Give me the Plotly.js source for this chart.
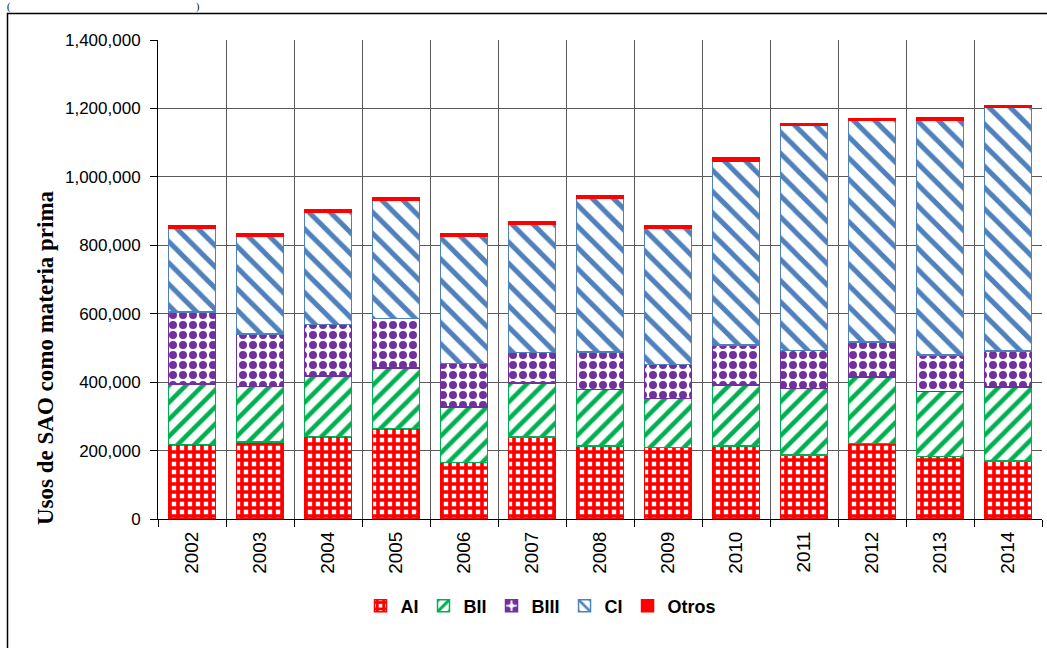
<!DOCTYPE html>
<html>
<head>
<meta charset="utf-8">
<script src="https://cdn.plot.ly/plotly-3.0.1.min.js"></script>
<style>
  html, body { margin: 0; padding: 0; background: #ffffff; }
  #chart { width: 1047px; height: 648px; }
</style>
</head>
<body>
<div id="chart"></div>
<script>
// ---- data ----
const years = ['2002','2003','2004','2005','2006','2007','2008','2009','2010','2011','2012','2013','2014'];
const AI    = [218000, 225000, 241000, 264000, 165000, 240000, 213000, 209000, 213000, 187000, 221000, 182000, 169000];
const BII   = [176000, 162000, 177000, 178000, 163000, 158000, 166000, 143000, 179000, 195000, 194000, 191000, 217000];
const BIII  = [211000, 154000, 151000, 144000, 127000,  88000, 109000, 100000, 117000, 111000, 102000, 106000, 105000];
const CI    = [246000, 285000, 327000, 346000, 370000, 376000, 449000, 397000, 538000, 659000, 648000, 687000, 711000];
const Otros = [  5000,   7000,   8000,   7000,   8000,   7000,   8000,   7000,   9000,   4000,   5000,   7000,   6000];
const yTickVals = [0, 200000, 400000, 600000, 800000, 1000000, 1200000, 1400000];

// ---- styles ----
const RED = '#ff0000', GREEN = '#00b050', PURPLE = '#7030a0', BLUE = '#4f81bd';

function barTrace(name, vals, color, pattern) {
  const marker = { color: color, line: { color: color, width: 1.5 } };
  if (pattern) {
    marker.pattern = Object.assign({ fgcolor: color, bgcolor: '#ffffff', fillmode: 'replace' }, pattern);
  }
  return { type: 'bar', name: name, x: years, y: vals, marker: marker, hoverinfo: 'x+y+name' };
}

const data = [
  barTrace('AI', AI, RED, { shape: '+', size: 8, solidity: 0.7 }),
  barTrace('BII', BII, GREEN, { shape: '/', size: 12, solidity: 0.38 }),
  barTrace('BIII', BIII, PURPLE, { shape: '.', size: 10, solidity: 0.5 }),
  barTrace('CI', CI, BLUE, { shape: '\\', size: 15, solidity: 0.33 }),
  barTrace('Otros', Otros, RED, null)
];

const L = 158, R = 1042, T = 40, B = 519, W = 1047, H = 648;
const px = v => (v - L) / (R - L);
const py = v => (B - v) / (B - T);

const yTickFont = { family: 'Liberation Sans, Arial, sans-serif', size: 17, color: '#000000' };
const xTickFont = { family: 'Liberation Sans, Arial, sans-serif', size: 19, color: '#000000' };

const layout = {
  width: W, height: H,
  margin: { l: L, r: W - R, t: T, b: H - B, pad: 0 },
  paper_bgcolor: '#ffffff',
  plot_bgcolor: '#ffffff',
  barmode: 'stack',
  bargap: 0.31,
  showlegend: true,
  legend: {
    orientation: 'h',
    x: px(541), xanchor: 'center',
    y: py(606), yanchor: 'middle',
    traceorder: 'normal',
    itemwidth: 30,
    font: { family: 'Liberation Sans, Arial, sans-serif', size: 18, color: '#000000', weight: 'bold' },
    bgcolor: 'rgba(0,0,0,0)'
  },
  xaxis: {
    type: 'category',
    range: [-0.5, 12.5],
    tickson: 'boundaries',
    ticks: 'outside', ticklen: 7, tickcolor: '#000000', tickwidth: 1,
    tickangle: -90,
    tickfont: xTickFont,
    ticklabelstandoff: 4,
    showgrid: true, gridcolor: '#5a5a5a', gridwidth: 1,
    showline: true, linecolor: '#000000', linewidth: 1,
    zeroline: false,
    fixedrange: true
  },
  yaxis: {
    range: [0, 1400000],
    tickvals: yTickVals,
    tickformat: ',d',
    ticks: 'outside', ticklen: 7, tickcolor: '#000000', tickwidth: 1,
    tickfont: yTickFont,
    ticklabelstandoff: 6,
    showgrid: true, gridcolor: '#5a5a5a', gridwidth: 1,
    showline: true, linecolor: '#000000', linewidth: 1,
    zeroline: false,
    fixedrange: true
  },
  annotations: [
    {
      text: 'Usos de SAO como materia prima',
      xref: 'paper', yref: 'paper',
      x: px(45), y: py(358),
      xanchor: 'center', yanchor: 'middle',
      textangle: -90, showarrow: false,
      font: { family: 'Liberation Serif, Times New Roman, serif', size: 23, color: '#000000', weight: 'bold' }
    },
    {
      text: '(', xref: 'paper', yref: 'paper',
      x: px(6), y: py(0), xanchor: 'left', yanchor: 'top', showarrow: false,
      borderpad: 0,
      font: { family: 'Liberation Serif, Times New Roman, serif', size: 10, color: '#000000' }
    },
    {
      text: ')', xref: 'paper', yref: 'paper',
      x: px(195), y: py(0), xanchor: 'left', yanchor: 'top', showarrow: false,
      borderpad: 0,
      font: { family: 'Liberation Serif, Times New Roman, serif', size: 10, color: '#000000' }
    }
  ],
  shapes: [
    {
      type: 'rect', xref: 'paper', yref: 'paper', layer: 'below',
      x0: px(7.5), x1: px(1060), y0: py(670), y1: py(13.5),
      line: { color: '#000000', width: 1.5 }, fillcolor: 'rgba(0,0,0,0)'
    }
  ]
};

Plotly.newPlot('chart', data, layout, { displayModeBar: false, staticPlot: true });
</script>
</body>
</html>
